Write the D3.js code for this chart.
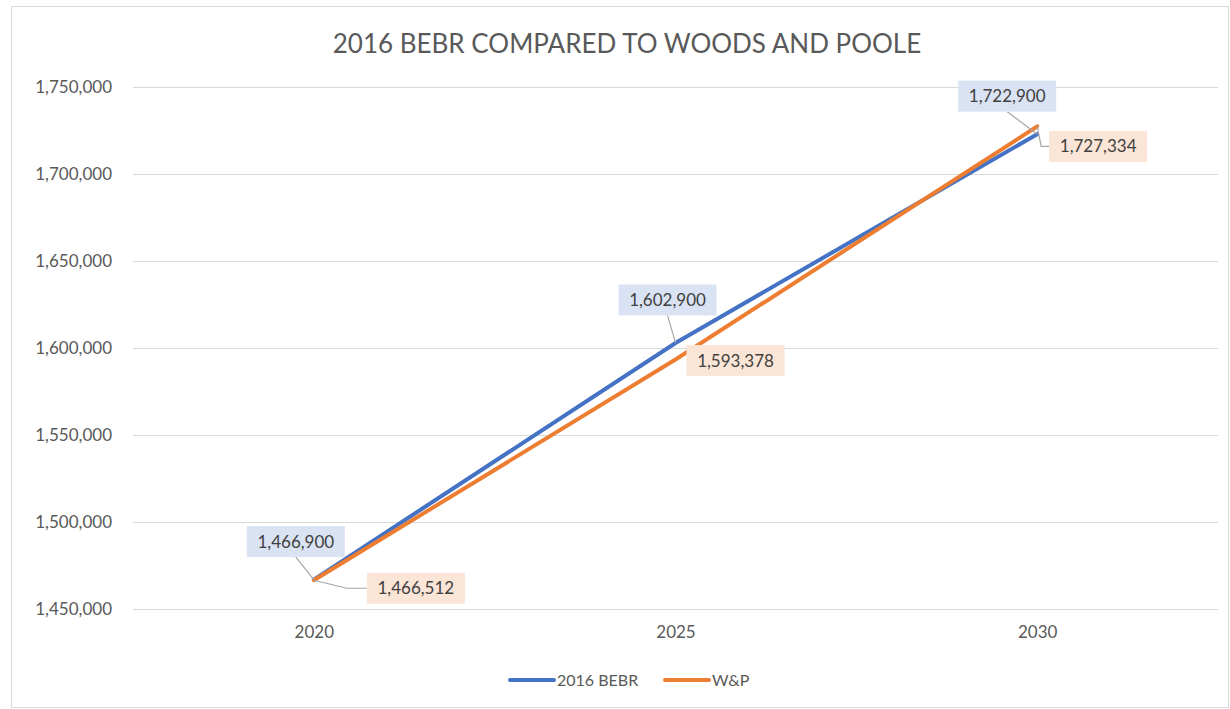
<!DOCTYPE html>
<html>
<head>
<meta charset="utf-8">
<script src="https://cdn.jsdelivr.net/npm/d3@7"></script>
<style>
  body { margin: 0; background: #fff; }
  text { font-family: Lato, "Open Sans", sans-serif; }
</style>
</head>
<body>
<script>
// data
const years = ["2020", "2025", "2030"];
const bebr = [1466900, 1602900, 1722900];
const wp = [1466512, 1593378, 1727334];
const yTicks = [1450000, 1500000, 1550000, 1600000, 1650000, 1700000, 1750000];
const seriesNames = ["2016 BEBR", "W&P"];

// label box offsets from their point (layout only)
const bebrOffsets = [[-18, -38], [-8, -43], [-30, -38]];
const wpOffsets = [[102, 8], [60, 1], [61, 20]];

const width = 1230, height = 709;
const colors = ["#4472c4", "#ed7d31"];
const boxFill = ["#dae3f3", "#fbe5d6"];

let svg = d3.select("body")
  .append("svg")
  .attr("width", width)
  .attr("height", height);

// chart border
svg.append("rect")
  .attr("x", 11.5)
  .attr("y", 6.5)
  .attr("width", 1217)
  .attr("height", 701)
  .style("fill", "white")
  .style("stroke", "#d9d9d9");

let x = d3.scalePoint()
  .domain(years)
  .range([133, 1218])
  .padding(0.5);

let y = d3.scaleLinear()
  .domain([1450000, 1750000])
  .range([609, 87]);

// title
svg.append("text")
  .attr("x", 627)
  .attr("y", 53)
  .attr("text-anchor", "middle")
  .style("font-size", "26px")
  .style("fill", "#595959")
  .text("2016 BEBR COMPARED TO WOODS AND POOLE");

// gridlines + y labels
let yAxis = svg.append("g")
  .attr("transform", "translate(133,0)")
  .call(d3.axisLeft(y).tickValues(yTicks).tickSize(-1085).tickPadding(21)
    .tickFormat(d3.format(",")));
yAxis.select(".domain").remove();
yAxis.selectAll("line").style("stroke", "#d9d9d9");
yAxis.selectAll("text")
  .style("font-size", "17px")
  .style("fill", "#595959")
  .style("font-family", "Lato, 'Open Sans', sans-serif");

// x labels
let xAxis = svg.append("g")
  .attr("transform", "translate(0,609)")
  .call(d3.axisBottom(x).tickSize(0).tickPadding(17));
xAxis.select(".domain").remove();
xAxis.selectAll("text")
  .style("font-size", "17px")
  .style("fill", "#595959")
  .style("font-family", "Lato, 'Open Sans', sans-serif");

let line = d3.line()
  .x((d, i) => x(years[i]))
  .y(d => y(d));

let series = [bebr, wp];

series.forEach((vals, s) => {
  svg.append("path")
    .datum(vals)
    .attr("d", line)
    .style("fill", "none")
    .style("stroke", colors[s])
    .style("stroke-width", 4)
    .style("stroke-linecap", "round");
});

// data labels with leader lines
const fmt = d3.format(",");
const boxW = 98, boxH = 31;
series.forEach((vals, s) => {
  let offs = s === 0 ? bebrOffsets : wpOffsets;
  vals.forEach((v, i) => {
    let px = x(years[i]), py = y(v);
    let cx = px + offs[i][0], cy = py + offs[i][1];
    let pts;
    if (s === 0) {
      pts = `${px},${py} ${cx},${cy + boxH / 2}`;
    } else {
      let lx = cx - boxW / 2;
      pts = i === 2
        ? `${px},${py} ${px + 4},${cy} ${lx},${cy}`
        : `${px},${py} ${lx - 20},${cy} ${lx},${cy}`;
    }
    if (!(s === 1 && i === 1)) {
      svg.append("polyline")
        .attr("points", pts)
        .style("fill", "none")
        .style("stroke", "#a6a6a6")
        .style("stroke-width", 1.2);
    }
    svg.append("rect")
      .attr("x", cx - boxW / 2)
      .attr("y", cy - boxH / 2)
      .attr("width", boxW)
      .attr("height", boxH)
      .style("fill", boxFill[s]);
    svg.append("text")
      .attr("x", cx)
      .attr("y", cy + 6)
      .attr("text-anchor", "middle")
      .style("font-size", "17px")
      .style("fill", "#404040")
      .text(fmt(v));
  });
});

// legend
const legendX = [510, 665];
seriesNames.forEach((name, s) => {
  svg.append("line")
    .attr("x1", legendX[s])
    .attr("x2", legendX[s] + 44)
    .attr("y1", 680)
    .attr("y2", 680)
    .style("stroke", colors[s])
    .style("stroke-width", 4)
    .style("stroke-linecap", "round");
  svg.append("text")
    .attr("x", legendX[s] + 47)
    .attr("y", 686)
    .style("font-size", "16px")
    .style("fill", "#595959")
    .text(name);
});
</script>
</body>
</html>
